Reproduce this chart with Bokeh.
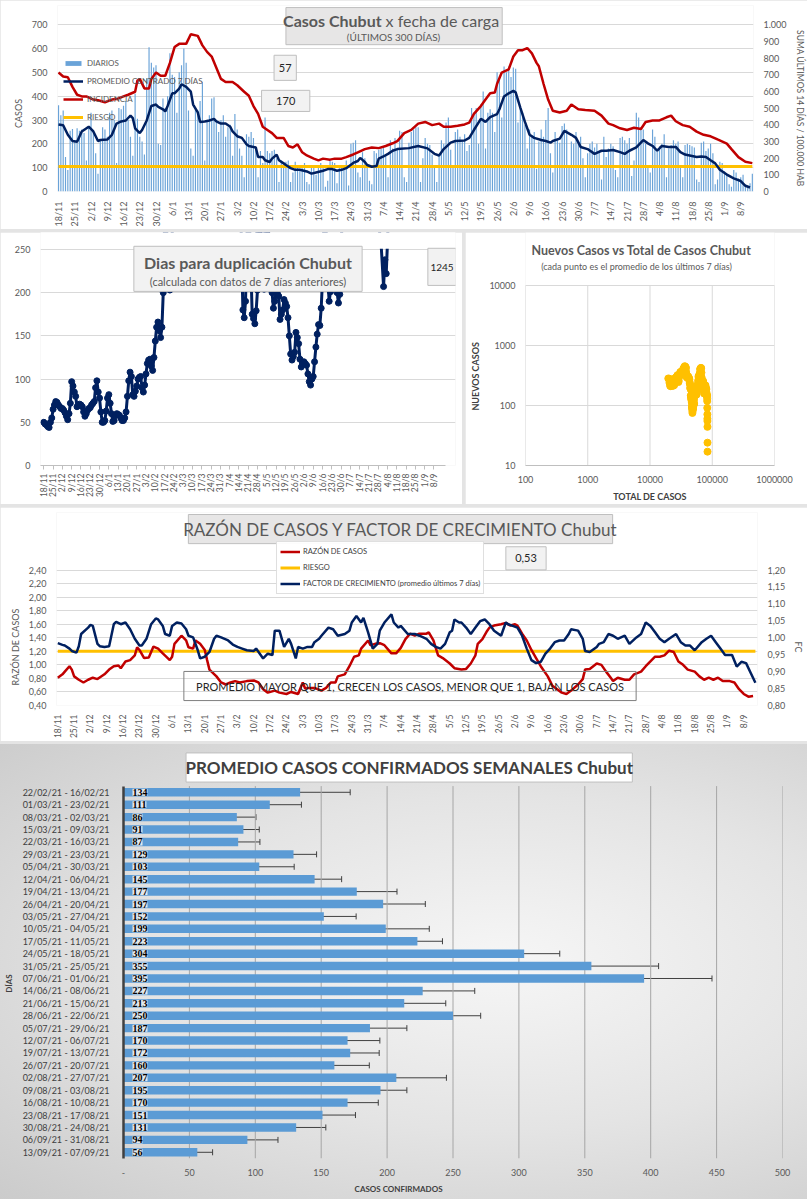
import math
import numpy as np
from bokeh.plotting import figure
from bokeh.models import (Range1d, LinearAxis, FixedTicker, CustomJSTickFormatter,
                          NumeralTickFormatter, Label, Legend, LegendItem,
                          ColumnDataSource, Whisker, TeeHead, LabelSet)
from bokeh.layouts import column, row
from bokeh.embed import file_html
from bokeh.resources import INLINE

# ------------------------------------------------------------------ DATA
FECHAS_TICK = ["18/11", "25/11", "2/12", "9/12", "16/12", "23/12", "30/12", "6/1", "13/1",
               "20/1", "27/1", "3/2", "10/2", "17/2", "24/2", "3/3", "10/3", "17/3", "24/3",
               "31/3", "7/4", "14/4", "21/4", "28/4", "5/5", "12/5", "19/5", "26/5", "2/6",
               "9/6", "16/6", "23/6", "30/6", "7/7", "14/7", "21/7", "28/7", "4/8", "11/8",
               "18/8", "25/8", "1/9", "8/9"]
TICK_DIAS = [7 * i for i in range(len(FECHAS_TICK))]

# casos diarios (18/11/20 -> 13/09/21)
DIARIOS = [
    362, 320, 340, 145, 90, 255, 262,
    215, 265, 255, 260, 245, 130, 270,
    330, 250, 160, 75, 215, 270, 260,
    230, 330, 340, 300, 120, 350, 345,
    360, 380, 300, 230, 150, 410, 305,
    230, 210, 155, 475, 605, 540, 520,
    530, 200, 195, 390, 350, 400, 580,
    490, 480, 330, 500, 530, 600, 540,
    340, 180, 150, 345, 340, 380, 460,
    130, 300, 320, 390, 395, 290, 250,
    300, 320, 230, 270, 280, 150, 325,
    260, 180, 150, 60, 240, 230, 250,
    225, 180, 60, 170, 120, 310, 170,
    160, 170, 175, 140, 40, 130, 100,
    125, 130, 40, 80, 125, 100, 95,
    110, 120, 40, 30, 110, 100, 70,
    100, 120, 110, 20, 45, 130, 125,
    120, 35, 100, 105, 110, 130, 25,
    200, 205, 215, 80, 60, 165, 140,
    100, 45, 30, 170, 160, 175, 180,
    185, 155, 60, 215, 180, 225, 175,
    255, 250, 60, 40, 205, 250, 260,
    270, 270, 40, 140, 225, 200, 195,
    155, 110, 40, 150, 215, 200, 290,
    310, 175, 110, 250, 260, 230, 210,
    240, 170, 195, 350, 330, 350, 200,
    365, 420, 180, 330, 345, 330, 250,
    500, 470, 310, 525, 500, 525, 480,
    520, 515, 290, 350, 330, 280, 180,
    260, 235, 250, 95, 210, 260, 230,
    300, 350, 160, 80, 250, 215, 205,
    275, 285, 260, 100, 210, 200, 250,
    200, 230, 140, 60, 160, 200, 210,
    185, 200, 170, 50, 230, 145, 180,
    200, 190, 90, 60, 225, 230, 215,
    200, 225, 65, 130, 330, 310, 270,
    260, 200, 110, 80, 260, 230, 180,
    190, 200, 240, 60, 180, 195, 215,
    200, 210, 110, 60, 195, 200, 195,
    190, 185, 50, 40, 205, 210, 170,
    180, 200, 160, 30, 50, 125, 120,
    85, 75, 30, 20, 90, 80, 55,
    60, 70, 20, 15, 35, 75,
]

# (dia, promedio centrado 7 dias)
PROMEDIO_7D = [
    (0, 281), (2, 278), (4, 238), (6, 212), (8, 209), (10, 252), (13, 272), (15, 252), (17, 212),
    (18, 216), (21, 218), (23, 238), (25, 285), (27, 294), (29, 298), (31, 319), (32, 308),
    (33, 265), (35, 245), (36, 258), (38, 298), (40, 359), (42, 365), (43, 355), (45, 345),
    (46, 336), (47, 359), (49, 412), (50, 412), (52, 432), (53, 450), (55, 439), (57, 419),
    (58, 365), (60, 332), (61, 292), (63, 294), (65, 298), (67, 305), (68, 294), (70, 285),
    (72, 285), (74, 272), (75, 252), (77, 232), (79, 225), (81, 198), (82, 191), (85, 185),
    (86, 145), (88, 145), (89, 131), (91, 124), (92, 138), (94, 154), (95, 131), (97, 118),
    (98, 111), (100, 98), (102, 91), (104, 91), (107, 84), (109, 75), (111, 80), (114, 87),
    (116, 94), (118, 94), (120, 87), (122, 91), (124, 98), (127, 120), (129, 128), (130, 141),
    (132, 124), (133, 111), (135, 104), (137, 107), (138, 138), (140, 147), (142, 158),
    (144, 171), (146, 178), (151, 182), (155, 191), (159, 181), (162, 158), (164, 151),
    (166, 178), (169, 205), (171, 212), (175, 214), (177, 225), (179, 258), (182, 305),
    (184, 292), (186, 312), (189, 325), (190, 345), (192, 399), (194, 412), (196, 422),
    (197, 416), (199, 352), (201, 292), (203, 238), (205, 225), (208, 216), (210, 212),
    (212, 205), (213, 212), (216, 222), (218, 254), (221, 238), (223, 225), (225, 187),
    (228, 178), (231, 158), (234, 171), (236, 171), (239, 174), (242, 165), (244, 158),
    (246, 171), (249, 185), (252, 216), (254, 202), (256, 191), (258, 171), (260, 191),
    (263, 187), (266, 187), (268, 165), (270, 155), (272, 151), (275, 145), (277, 147),
    (279, 145), (281, 131), (283, 118), (285, 91), (288, 71), (290, 60), (291, 55), (294, 44),
    (296, 24), (298, 17),
]

# (dia, incidencia: suma 14 dias / 100.000 hab)
INCIDENCIA_14D = [
    (0, 713), (2, 689), (4, 685), (6, 627), (8, 580), (10, 570), (12, 570), (15, 551), (17, 547),
    (20, 535), (23, 551), (25, 554), (28, 570), (30, 580), (33, 598), (34, 665), (35, 675),
    (37, 618), (39, 618), (40, 675), (42, 713), (44, 694), (46, 694), (48, 771), (50, 866),
    (52, 885), (55, 885), (57, 943), (60, 933), (62, 876), (64, 837), (66, 809), (68, 742),
    (70, 675), (72, 656), (75, 656), (77, 637), (80, 598), (82, 574), (84, 512), (86, 465),
    (88, 388), (90, 369), (92, 350), (94, 321), (97, 321), (99, 273), (101, 264), (103, 283),
    (105, 235), (107, 216), (110, 197), (112, 187), (114, 197), (117, 191), (119, 197),
    (122, 197), (124, 206), (127, 222), (129, 235), (132, 254), (135, 264), (138, 260),
    (141, 273), (144, 289), (146, 302), (149, 350), (152, 369), (155, 407), (158, 417),
    (161, 398), (164, 407), (166, 388), (169, 388), (172, 394), (175, 402), (177, 413),
    (179, 465), (182, 512), (184, 551), (186, 589), (188, 593), (189, 646), (191, 713),
    (194, 732), (196, 809), (198, 847), (200, 847), (202, 860), (204, 828), (206, 771),
    (207, 751), (209, 646), (211, 551), (213, 484), (216, 474), (219, 484), (221, 522),
    (224, 493), (227, 489), (231, 484), (234, 455), (237, 407), (239, 398), (242, 379),
    (245, 369), (248, 382), (251, 375), (253, 417), (256, 426), (259, 426), (262, 445),
    (264, 455), (266, 421), (269, 398), (272, 388), (275, 359), (278, 340), (281, 331),
    (284, 312), (288, 287), (290, 254), (293, 206), (296, 178), (299, 170),
]
RIESGO_INCIDENCIA = 150
ULTIMO_PROMEDIO = "57"
ULTIMA_INCIDENCIA = "170"

# (dia, dias para duplicacion)
DUPLICACION = [
    (0, 50), (1, 48), (2, 47), (3, 45), (4, 44), (5, 50), (6, 55), (7, 65), (8, 70), (9, 74),
    (10, 73), (11, 70), (12, 68), (13, 66), (14, 66), (15, 64), (16, 61), (17, 57), (18, 53),
    (19, 60), (20, 72), (21, 97), (22, 92), (23, 85), (24, 80), (25, 68), (26, 70), (27, 71),
    (28, 70), (29, 68), (30, 62), (31, 57), (32, 60), (33, 64), (34, 66), (35, 67), (36, 70),
    (37, 72), (38, 74), (39, 90), (40, 98), (41, 85), (42, 78), (43, 62), (44, 50), (45, 50),
    (46, 52), (47, 63), (48, 78), (49, 82), (50, 72), (51, 60), (52, 51), (53, 52), (54, 58),
    (55, 60), (56, 59), (57, 58), (58, 55), (59, 52), (60, 52), (61, 55), (62, 62), (63, 80),
    (64, 98), (65, 108), (66, 103), (67, 82), (68, 80), (69, 86), (70, 92), (71, 100),
    (72, 102), (73, 103), (74, 90), (75, 85), (76, 93), (77, 106), (78, 118), (79, 122),
    (80, 123), (81, 115), (82, 110), (83, 125), (84, 144), (85, 160), (86, 166), (87, 156),
    (88, 148), (89, 160), (90, 200), (91, 280), (92, 320), (93, 240), (94, 205), (95, 203),
    (96, 205), (97, 290), (100, 400), (110, 700), (120, 900), (130, 800), (140, 600),
    (148, 320), (150, 180), (151, 171), (152, 190), (153, 260), (154, 320), (155, 280),
    (156, 230), (157, 175), (158, 170), (159, 164), (160, 179), (161, 203), (162, 270),
    (163, 300), (164, 260), (165, 240), (166, 204), (167, 240), (168, 270), (169, 280),
    (170, 240), (171, 210), (172, 200), (173, 182), (174, 190), (175, 200), (176, 199),
    (177, 196), (178, 169), (179, 175), (180, 180), (181, 192), (182, 188), (183, 184),
    (184, 171), (185, 150), (186, 129), (187, 122), (188, 126), (189, 131), (190, 154),
    (191, 148), (192, 141), (193, 123), (194, 114), (195, 118), (196, 120), (197, 118),
    (198, 116), (199, 106), (200, 97), (201, 93), (202, 100), (203, 103), (204, 120),
    (205, 137), (206, 152), (207, 163), (208, 162), (209, 182), (210, 215), (211, 280),
    (212, 300), (213, 260), (214, 215), (215, 190), (216, 201), (217, 230), (218, 260),
    (219, 240), (220, 215), (221, 200), (222, 188), (223, 198), (224, 260), (230, 400),
    (240, 600), (250, 300), (254, 260), (256, 207), (257, 238), (258, 222), (259, 260),
    (262, 400), (275, 700), (290, 1000), (299, 1245),
]
ULTIMA_DUPLICACION = "1245"
DUPLICACION_MAX_EJE = 250
CASOS_PREVIOS = 19300   # total acumulado antes del 18/11

# (dia, razon de casos)
RAZON = [
    (0, 0.81), (2, 0.86), (3, 0.90), (5, 0.98), (6, 0.93), (7, 0.83), (9, 0.78), (11, 0.74),
    (13, 0.78), (15, 0.81), (17, 0.79), (20, 0.86), (22, 0.93), (24, 0.98), (26, 0.99),
    (27, 0.95), (29, 1.05), (31, 1.07), (33, 1.14), (34, 1.26), (35, 1.22), (37, 1.10),
    (39, 1.11), (41, 1.27), (43, 1.24), (45, 1.17), (48, 1.07), (49, 1.12), (50, 1.31),
    (53, 1.43), (55, 1.36), (56, 1.26), (58, 1.24), (59, 1.36), (61, 1.31), (63, 1.22),
    (64, 1.07), (65, 0.93), (68, 0.83), (70, 0.74), (72, 0.71), (74, 0.74), (76, 0.76),
    (78, 0.74), (81, 0.76), (84, 0.77), (86, 0.74), (88, 0.64), (90, 0.59), (93, 0.62),
    (95, 0.59), (98, 0.57), (100, 0.60), (103, 0.57), (105, 0.74), (106, 0.65), (108, 0.66),
    (110, 0.66), (113, 0.62), (115, 0.66), (117, 0.74), (119, 0.74), (120, 0.83), (123, 0.86),
    (125, 0.98), (127, 1.12), (129, 1.14), (130, 1.24), (133, 1.36), (134, 1.29), (136, 1.31),
    (138, 1.32), (140, 1.29), (143, 1.17), (145, 1.17), (147, 1.25), (149, 1.38), (151, 1.46),
    (153, 1.43), (155, 1.46), (158, 1.46), (159, 1.48), (161, 1.36), (163, 1.14), (165, 1.10),
    (168, 1.02), (170, 0.95), (173, 0.93), (175, 0.94), (177, 1.02), (179, 1.14), (180, 1.31),
    (182, 1.38), (184, 1.50), (185, 1.55), (187, 1.58), (190, 1.60), (192, 1.62), (194, 1.58),
    (196, 1.60), (197, 1.58), (199, 1.46), (201, 1.36), (203, 1.22), (205, 1.10), (207, 0.98),
    (210, 0.83), (212, 0.69), (214, 0.64), (216, 0.59), (218, 0.57), (220, 0.62), (223, 0.71),
    (225, 0.79), (226, 0.93), (228, 0.94), (231, 1.02), (233, 1.00), (235, 0.90), (237, 0.81),
    (238, 0.76), (240, 0.81), (243, 0.78), (245, 0.78), (247, 0.86), (250, 0.90), (252, 0.98),
    (254, 1.05), (256, 1.12), (258, 1.12), (260, 1.14), (262, 1.21), (264, 1.19), (266, 1.05),
    (268, 1.00), (270, 0.93), (273, 0.90), (275, 0.83), (277, 0.78), (279, 0.81), (281, 0.78),
    (283, 0.81), (285, 0.76), (288, 0.76), (290, 0.74), (292, 0.64), (294, 0.57), (296, 0.53),
    (298, 0.54),
]
# (dia, factor de crecimiento, promedio 7 dias)
FACTOR_CREC = [
    (0, 0.984), (2, 0.979), (3, 0.977), (5, 0.968), (6, 0.961), (8, 0.956), (9, 0.975),
    (10, 1.011), (13, 1.030), (14, 1.038), (15, 1.035), (17, 0.982), (18, 0.975), (20, 0.973),
    (22, 0.975), (24, 1.040), (25, 1.047), (27, 1.040), (29, 1.045), (31, 1.025), (33, 0.997),
    (35, 0.977), (36, 0.977), (38, 0.997), (40, 1.040), (42, 1.057), (43, 1.054), (45, 1.035),
    (46, 1.011), (48, 1.006), (49, 1.035), (51, 1.045), (53, 1.042), (55, 1.025), (56, 1.006),
    (58, 1.001), (60, 0.963), (61, 0.939), (63, 0.944), (65, 0.958), (67, 0.997), (68, 1.006),
    (70, 1.001), (73, 0.992), (75, 0.980), (77, 0.973), (79, 0.968), (81, 0.963), (84, 0.961),
    (85, 0.968), (88, 0.939), (90, 0.953), (92, 0.949), (93, 1.021), (95, 1.021), (97, 0.973),
    (99, 0.997), (100, 0.982), (102, 0.939), (103, 0.973), (105, 0.968), (107, 0.973),
    (109, 0.973), (110, 0.987), (112, 0.997), (113, 1.006), (116, 1.030), (118, 1.025),
    (120, 1.006), (123, 1.011), (125, 1.021), (126, 1.045), (128, 1.064), (130, 1.045),
    (131, 1.059), (133, 1.016), (135, 0.968), (137, 0.982), (138, 1.021), (140, 1.045),
    (143, 1.069), (144, 1.045), (146, 1.030), (147, 1.035), (150, 1.011), (153, 1.011),
    (155, 1.006), (158, 0.997), (160, 0.982), (162, 0.973), (164, 0.968), (166, 0.982),
    (168, 1.016), (169, 1.021), (170, 1.054), (172, 1.045), (173, 1.045), (175, 1.030),
    (177, 1.011), (179, 1.030), (181, 1.049), (183, 1.054), (185, 1.040), (187, 1.021),
    (190, 1.006), (192, 1.045), (193, 1.040), (195, 1.035), (197, 1.030), (199, 1.006),
    (201, 0.968), (203, 0.934), (205, 0.925), (207, 0.929), (209, 0.953), (211, 0.968),
    (213, 0.987), (215, 0.992), (217, 0.992), (219, 1.011), (220, 1.025), (223, 1.021),
    (225, 0.997), (226, 0.961), (228, 0.958), (231, 0.973), (232, 0.982), (234, 0.987),
    (236, 1.011), (238, 1.006), (240, 0.997), (243, 1.006), (245, 0.982), (248, 1.001),
    (250, 1.011), (252, 1.045), (254, 1.035), (256, 1.016), (258, 0.997), (260, 0.987),
    (262, 0.997), (265, 1.011), (267, 0.987), (269, 0.977), (271, 0.977), (273, 0.963),
    (276, 0.987), (278, 0.997), (280, 1.006), (282, 0.987), (284, 0.968), (286, 0.949),
    (289, 0.949), (291, 0.915), (293, 0.929), (295, 0.925), (297, 0.896), (299, 0.867),
]
RIESGO_RAZON = 1.2
ULTIMA_RAZON = "0,53"

SEMANAS = ["22/02/21 - 16/02/21", "01/03/21 - 23/02/21", "08/03/21 - 02/03/21",
           "15/03/21 - 09/03/21", "22/03/21 - 16/03/21", "29/03/21 - 23/03/21",
           "05/04/21 - 30/03/21", "12/04/21 - 06/04/21", "19/04/21 - 13/04/21",
           "26/04/21 - 20/04/21", "03/05/21 - 27/04/21", "10/05/21 - 04/05/21",
           "17/05/21 - 11/05/21", "24/05/21 - 18/05/21", "31/05/21 - 25/05/21",
           "07/06/21 - 01/06/21", "14/06/21 - 08/06/21", "21/06/21 - 15/06/21",
           "28/06/21 - 22/06/21", "05/07/21 - 29/06/21", "12/07/21 - 06/07/21",
           "19/07/21 - 13/07/21", "26/07/21 - 20/07/21", "02/08/21 - 27/07/21",
           "09/08/21 - 03/08/21", "16/08/21 - 10/08/21", "23/08/21 - 17/08/21",
           "30/08/21 - 24/08/21", "06/09/21 - 31/08/21", "13/09/21 - 07/09/21"]
PROM_SEMANAL = [134, 111, 86, 91, 87, 129, 103, 145, 177, 197, 152, 199, 223, 304, 355,
                395, 227, 213, 250, 187, 170, 172, 160, 207, 195, 170, 151, 131, 94, 56]
ERROR_SEMANAL = [38, 24, 14.5, 12, 16.5, 17.5, 26.5, 20.5, 30.5, 32, 24.5, 33, 19, 27, 51,
                 51.5, 39.5, 31.5, 21, 28, 24.5, 22, 26.5, 38, 20, 23.3, 25, 22.5, 23.2, 11.6]
ESCALA_SEMANAL = list(range(0, 501, 50))

# ------------------------------------------------------------------ STYLE
BLUE, NAVY, RED, YELLOW = "#5b9bd5", "#002060", "#c00000", "#ffc000"
TXT, GRID, FONT = "#595959", "#d9d9d9", "Lato"
NB = "\u00a0"


def mapper(W, H, L, R, T, B, xr, yr, logx=False, logy=False):
    fw, fh = W - L - R, H - T - B

    def conv(f, r, lg):
        if lg:
            a, b = math.log10(r[0]), math.log10(r[1])
            return 10 ** (a + f * (b - a))
        return r[0] + f * (r[1] - r[0])

    def X(px):
        return conv((px - L) / fw, xr, logx)

    def Y(py):
        return conv((H - B - py) / fh, yr, logy)
    return X, Y


def new_fig(W, H, L, R, T, B, **kw):
    p = figure(width=W, height=H, output_backend="svg", toolbar_location=None, title=None,
               min_border_left=L, min_border_right=R, min_border_top=T,
               min_border_bottom=B, **kw)
    p.outline_line_color = None
    p.xgrid.grid_line_color = None
    p.ygrid.grid_line_color = GRID
    return p


def style_axis(ax, size="9px", color=TXT, label_size="9px", bold_label=False):
    ax.major_label_text_font = FONT
    ax.major_label_text_font_size = size
    ax.major_label_text_color = color
    ax.axis_label_text_font = FONT
    ax.axis_label_text_font_size = label_size
    ax.axis_label_text_color = color
    ax.axis_label_text_font_style = "bold" if bold_label else "normal"
    ax.axis_line_color = None
    ax.major_tick_line_color = None
    ax.minor_tick_line_color = None
    ax.major_label_standoff = 4
    ax.axis_label_standoff = 5


def box(p, X, Y, x0, x1, y0, y1, fill="#f2f2f2", line="#bfbfbf", fill_alpha=1.0):
    hw, hh = int(round((x1 - x0) / 2)), int(round((y1 - y0) / 2))
    p.add_layout(Label(x=X((x0 + x1) / 2), y=Y((y0 + y1) / 2), text=" ", text_font_size="1px",
                       text_align="center", text_baseline="middle",
                       background_fill_color=fill, background_fill_alpha=fill_alpha,
                       border_line_color=line, border_line_width=1,
                       padding=dict(left=hw, right=hw, top=hh, bottom=hh)))


def txt(p, X, Y, px, py, text, size, color=TXT, bold=False, align="center"):
    p.add_layout(Label(x=X(px), y=Y(py), text=text, text_font=FONT,
                       text_font_size=f"{size}px", text_color=color,
                       text_font_style="bold" if bold else "normal",
                       text_align=align, text_baseline="middle"))


def date_axis(ax):
    ax.ticker = FixedTicker(ticks=TICK_DIAS)
    ax.major_label_overrides = dict(zip(TICK_DIAS, FECHAS_TICK))
    ax.major_label_orientation = math.pi / 2


DIAS = list(range(len(DIARIOS)))
PROM_DIA, PROM_VAL = [list(t) for t in zip(*PROMEDIO_7D)]
INC_DIA, INC_VAL = [list(t) for t in zip(*INCIDENCIA_14D)]
DUP_DIA, DUP_VAL = [list(t) for t in zip(*DUPLICACION)]
RAZ_DIA, RAZ_VAL = [list(t) for t in zip(*RAZON)]
FC_DIA, FC_VAL = [list(t) for t in zip(*FACTOR_CREC)]

# ------------------------------------------------------------------ PANEL 1
W1, H1, L1, R1, T1, B1 = 807, 229, 57, 50, 5, 30
XR1, YR1 = (-0.45, 299.5), (0, 780.5)
p1 = new_fig(W1, H1, L1, R1, T1, B1, x_range=Range1d(*XR1), y_range=Range1d(*YR1))
X1, Y1 = mapper(W1, H1, L1, R1, T1, B1, XR1, YR1)
p1.extra_y_ranges = {"inc": Range1d(0, 780.5 / 0.7)}
r_dia = p1.vbar(x=DIAS, top=DIARIOS, width=0.5, fill_color="#6aa3d8", line_color=None)
r_rie = p1.line(DIAS, [RIESGO_INCIDENCIA] * len(DIAS), line_color=YELLOW, line_width=3,
                y_range_name="inc")
r_pro = p1.line(PROM_DIA, PROM_VAL, line_color=NAVY, line_width=2.5)
r_inc = p1.line(INC_DIA, INC_VAL, line_color=RED, line_width=2.5, y_range_name="inc")
p1.yaxis.ticker = FixedTicker(ticks=list(range(0, 701, 100)))
p1.yaxis.axis_label = "CASOS" + NB * 13
style_axis(p1.yaxis[0])
date_axis(p1.xaxis[0])
style_axis(p1.xaxis[0], size="9px")
ax_r = LinearAxis(y_range_name="inc", ticker=FixedTicker(ticks=list(range(0, 1001, 100))),
                  formatter=CustomJSTickFormatter(
                      code="return tick >= 1000 ? (tick/1000).toFixed(3) : tick.toString();"),
                  axis_label=NB * 10 + "SUMA  ÚLTIMOS 14 DÍAS / 100.000 HAB")
style_axis(ax_r, label_size="8.5px")
p1.add_layout(ax_r, "right")
leg1 = Legend(items=[LegendItem(label="DIARIOS", renderers=[r_dia]),
                     LegendItem(label="PROMEDIO CENTRADO 7 DÍAS", renderers=[r_pro]),
                     LegendItem(label="INCIDENCIA", renderers=[r_inc]),
                     LegendItem(label="RIESGO", renderers=[r_rie])],
              location=(6, 65), background_fill_alpha=0, border_line_alpha=0,
              label_text_font=FONT, label_text_font_size="8px", label_text_color=TXT,
              glyph_width=20, glyph_height=6, label_height=18, spacing=0, padding=0,
              margin=0, label_standoff=4)
p1.add_layout(leg1)
box(p1, X1, Y1, 287, 504, 8, 45, fill="#e7e6e6")
txt(p1, X1, Y1, 383, 21, "Casos Chubut", 16, bold=True, align="right")
txt(p1, X1, Y1, 387, 21, "x fecha de carga", 16, align="left")
txt(p1, X1, Y1, 395, 38, "(ÚLTIMOS 300 DÍAS)", 10)
box(p1, X1, Y1, 275, 297, 58, 82)
txt(p1, X1, Y1, 286, 70, ULTIMO_PROMEDIO, 11, color="#262626")
box(p1, X1, Y1, 262, 311, 94, 115)
txt(p1, X1, Y1, 286.5, 104.5, ULTIMA_INCIDENCIA, 11, color="#262626")

# ------------------------------------------------------------------ PANEL 2 (row: frames share top/bottom)
T2ROW, B2ROW = 0, 38
top2 = 232
# 2a: the frame reaches the canvas top; the part above the 250 limit is masked in white
W2, H2, L2, R2 = 462, 272, 40, 7
XR2, YR2 = (-2.49, 310.2), (0, (272 - T2ROW - B2ROW) / ((272 - B2ROW - 17) / 250))
p2a = new_fig(W2, H2, L2, R2, T2ROW, B2ROW, x_range=Range1d(*XR2), y_range=Range1d(*YR2))
X2, Y2 = mapper(W2, H2, L2, R2, T2ROW, B2ROW, XR2, YR2)
p2a.line(DUP_DIA, DUP_VAL, line_color=NAVY, line_width=3)
p2a.scatter(DUP_DIA, DUP_VAL, size=6, fill_color=NAVY, line_color=NAVY)
p2a.quad(left=XR2[0], right=XR2[1], bottom=DUPLICACION_MAX_EJE + 0.7, top=YR2[1] + 60,
         fill_color="white", line_color=None)
p2a.yaxis.ticker = FixedTicker(ticks=list(range(0, DUPLICACION_MAX_EJE + 1, 50)))
p2a.yaxis.bounds = (0, DUPLICACION_MAX_EJE)
style_axis(p2a.yaxis[0])
date_axis(p2a.xaxis[0])
style_axis(p2a.xaxis[0], size="8.5px")
p2a.xaxis.axis_line_color = "#bfbfbf"
p2a.xaxis.major_tick_line_color = "#bfbfbf"
p2a.xaxis.major_tick_out = 4
p2a.xaxis.major_tick_in = 0
p2a.xaxis.bounds = (-2.49, 303)
box(p2a, X2, Y2, 133, 362, 247 - top2, 290 - top2)
txt(p2a, X2, Y2, 247.5, 262 - top2, "Dias para duplicación Chubut", 16, bold=True)
txt(p2a, X2, Y2, 247.5, 281 - top2, "(calculada con datos de 7 días anteriores)", 11)
box(p2a, X2, Y2, 428, 455, 248 - top2, 285 - top2)
txt(p2a, X2, Y2, 441.5, 267 - top2, ULTIMA_DUPLICACION, 10, color="#262626")

# 2b
W3, H3, L3, R3 = 342, 272, 60, 33
left3 = 465
dec_px = (272 - B2ROW - (285 - top2)) / 3.0
XR3, YR3 = (100, 1e6), (10, 10 ** (4 + (285 - top2 - T2ROW) / dec_px))
p2b = new_fig(W3, H3, L3, R3, T2ROW, B2ROW, x_axis_type="log", y_axis_type="log",
              x_range=Range1d(*XR3), y_range=Range1d(*YR3))
X3, Y3 = mapper(W3, H3, L3, R3, T2ROW, B2ROW, XR3, YR3, logx=True, logy=True)
DECADAS_X = [100, 1000, 10000, 100000, 1000000]
DECADAS_Y = [10, 100, 1000, 10000]
p2b.segment(x0=DECADAS_X, x1=DECADAS_X, y0=[DECADAS_Y[0]] * 5, y1=[DECADAS_Y[-1]] * 5,
            line_color=GRID, line_width=1)
cum = np.cumsum(DIARIOS)
TOTAL_SC = [CASOS_PREVIOS + int(cum[d]) for d in PROM_DIA]
p2b.scatter(TOTAL_SC, PROM_VAL, size=7, fill_color=YELLOW, line_color=YELLOW)
for ax, lab in ((p2b.xaxis[0], "TOTAL DE CASOS"), (p2b.yaxis[0], "NUEVOS CASOS" + NB * 25)):
    style_axis(ax, bold_label=True, label_size="9px")
    ax.axis_label = lab
    ax.axis_label_text_color = "#404040"
    ax.formatter = NumeralTickFormatter(format="0")
p2b.xaxis.ticker = FixedTicker(ticks=DECADAS_X)
p2b.yaxis.ticker = FixedTicker(ticks=DECADAS_Y)
p2b.yaxis.bounds = (10, 10000)
p2b.xaxis.axis_line_color = "#bfbfbf"
txt(p2b, X3, Y3, 641 - left3, 250 - top2, "Nuevos Casos vs Total de Casos Chubut", 12.5,
    bold=True)
txt(p2b, X3, Y3, 636 - left3, 266 - top2, "(cada punto es el promedio de los últimos 7 días)", 9)

# ------------------------------------------------------------------ PANEL 3
W4, H4, L4, R4, T4, B4 = 807, 234, 56, 50, 5, 31
XR4, YR4 = (-0.557, 299.9), (0.4, 3.249)
top4 = 507
p3 = new_fig(W4, H4, L4, R4, T4, B4, x_range=Range1d(*XR4), y_range=Range1d(*YR4))
X4, Y4 = mapper(W4, H4, L4, R4, T4, B4, XR4, YR4)
p3.extra_y_ranges = {"fc": Range1d(0.8, 0.8 + (3.249 - 0.4) / 5)}
comma = "return tick.toFixed(2).replace('.', ',');"
p3.yaxis.ticker = FixedTicker(ticks=[0.4 + 0.2 * i for i in range(11)])
p3.yaxis.formatter = CustomJSTickFormatter(code=comma)
p3.yaxis.axis_label = "RAZÓN DE CASOS" + NB * 33
p3.yaxis.bounds = (0.4, 2.4)
style_axis(p3.yaxis[0])
date_axis(p3.xaxis[0])
style_axis(p3.xaxis[0], size="8.5px")
p3.xaxis.major_label_standoff = 3
ax_fc = LinearAxis(y_range_name="fc", ticker=FixedTicker(ticks=[0.8 + 0.05 * i for i in range(9)]),
                   formatter=CustomJSTickFormatter(code=comma), axis_label=NB * 33 + "FC",
                   bounds=(0.8, 1.2))
style_axis(ax_fc)
p3.add_layout(ax_fc, "right")
r3_rie = p3.line(DIAS, [RIESGO_RAZON] * len(DIAS), line_color=YELLOW, line_width=3)
r_raz = p3.line(RAZ_DIA, RAZ_VAL, line_color=RED, line_width=2.5)
r_fc = p3.line(FC_DIA, FC_VAL, line_color=NAVY, line_width=2.5, y_range_name="fc")
leg3 = Legend(items=[LegendItem(label="RAZÓN DE CASOS", renderers=[r_raz]),
                     LegendItem(label="RIESGO", renderers=[r3_rie]),
                     LegendItem(label="FACTOR DE CRECIMIENTO (promedio últimos 7 días)",
                                renderers=[r_fc])],
              location=(220, 111), background_fill_color="white", border_line_color="#bfbfbf",
              label_text_font=FONT, label_text_font_size="7.5px", label_text_color="#404040",
              glyph_width=20, glyph_height=13, label_height=13, spacing=3, padding=3,
              margin=0, label_standoff=3)
p3.add_layout(leg3)
box(p3, X4, Y4, 188, 612, 515 - top4, 543 - top4, fill="#e7e6e6")
txt(p3, X4, Y4, 400, 529.5 - top4, "RAZÓN DE CASOS Y FACTOR DE CRECIMIENTO Chubut", 17)
box(p3, X4, Y4, 506, 545, 548 - top4, 570 - top4)
txt(p3, X4, Y4, 525.5, 559 - top4, ULTIMA_RAZON, 11, color="#262626")
box(p3, X4, Y4, 183, 636, 676 - top4, 704 - top4, fill="white", fill_alpha=0,
    line="#7f7f7f")
txt(p3, X4, Y4, 409.5, 690 - top4,
    "PROMEDIO MAYOR QUE 1, CRECEN LOS CASOS, MENOR QUE 1, BAJAN LOS CASOS", 11,
    color="#262626")

# ------------------------------------------------------------------ PANEL 4
N = len(SEMANAS)
W5, H5, L5, R5, T5, B5 = 807, 455, 120, 25, 6, 41
XR5, YR5 = (0, 500), (-0.5, -0.5 + 408 / 12.414)
top5 = 744
p4 = figure(width=W5, height=H5, output_backend="svg", toolbar_location=None, title=None,
            min_border_left=L5, min_border_right=R5, min_border_top=T5, min_border_bottom=B5,
            x_range=Range1d(*XR5), y_range=Range1d(*YR5))
X5, Y5 = mapper(W5, H5, L5, R5, T5, B5, XR5, YR5)
p4.background_fill_alpha = 0
p4.border_fill_alpha = 0
p4.styles = {"background": "radial-gradient(ellipse farthest-corner at 62% 48%, "
                           "#f6f6f6 0%, #e4e4e4 50%, #cbcbcb 100%)"}
p4.outline_line_color = None
p4.ygrid.grid_line_color = None
p4.xgrid.grid_line_color = None
POS = [N - 1 - i for i in range(N)]
p4.segment(x0=ESCALA_SEMANAL[1:], x1=ESCALA_SEMANAL[1:], y0=[-0.5] * (len(ESCALA_SEMANAL) - 1),
           y1=[N - 0.5] * (len(ESCALA_SEMANAL) - 1), line_color="#a6a6a6", line_width=1)
src4 = ColumnDataSource(dict(pos=POS, v=PROM_SEMANAL,
                             lo=[v - e for v, e in zip(PROM_SEMANAL, ERROR_SEMANAL)],
                             hi=[v + e for v, e in zip(PROM_SEMANAL, ERROR_SEMANAL)],
                             t=[str(v) for v in PROM_SEMANAL]))
p4.hbar(y="pos", right="v", left=0, height=0.68, fill_color=BLUE, line_color=None, source=src4)
p4.add_layout(Whisker(source=src4, base="pos", lower="lo", upper="hi", dimension="width",
                      line_color="#404040", line_width=1,
                      upper_head=TeeHead(size=6, line_color="#404040", line_width=1),
                      lower_head=TeeHead(size=6, line_color="#404040", line_width=1)))
p4.add_layout(LabelSet(source=src4, x=0, y="pos", text="t", x_offset=9,
                       text_font=FONT, text_font_size="10px", text_font_style="bold",
                       text_color="#000000", text_baseline="middle",
                       background_fill_color="#f0f0f0", background_fill_alpha=0.9))
p4.xaxis.ticker = FixedTicker(ticks=ESCALA_SEMANAL)
p4.xaxis.formatter = CustomJSTickFormatter(code="return tick == 0 ? '-' : tick.toString();")
p4.xaxis.axis_label = "CASOS CONFIRMADOS" + NB * 56
p4.yaxis.axis_label = "DÍAS" + NB * 30
p4.yaxis.ticker = FixedTicker(ticks=POS)
p4.yaxis.major_label_overrides = dict(zip(POS, SEMANAS))
p4.yaxis.bounds = (-0.5, N - 0.5)
style_axis(p4.xaxis[0], size="9px", label_size="8px", bold_label=True)
style_axis(p4.yaxis[0], size="9px", color="#404040", label_size="8px", bold_label=True)
p4.xaxis.axis_label_text_color = "#404040"
p4.yaxis.axis_line_color = "#404040"
p4.yaxis.axis_line_width = 2.5
p4.yaxis.major_label_standoff = 8
p4.yaxis.axis_label_standoff = 6
box(p4, X5, Y5, 184, 630, 753 - top5, 781 - top5, fill="white")
txt(p4, X5, Y5, 407, 767 - top5, "PROMEDIO CASOS CONFIRMADOS SEMANALES Chubut", 17,
    color="#404040", bold=True)

layout = column(row(p1), row(p2a, p2b, spacing=3), row(p3), row(p4), spacing=3,
                styles={"background-color": "#e4e4e4"})
open("out.html", "w").write(file_html(layout, INLINE, title="Casos Chubut"))
